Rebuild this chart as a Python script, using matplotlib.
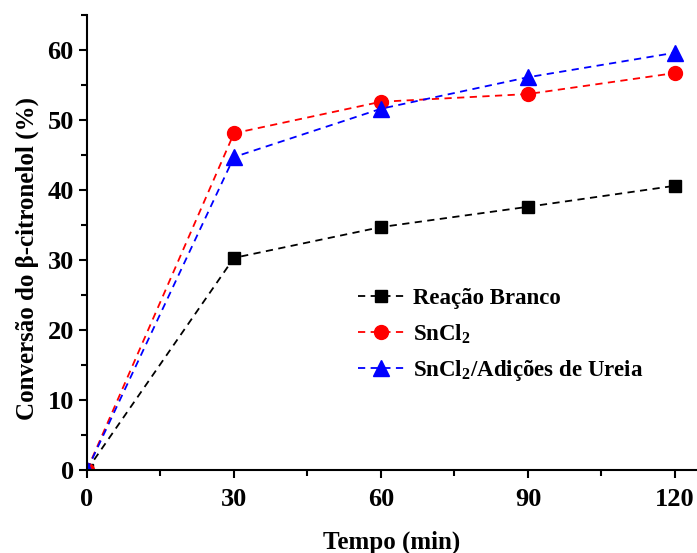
import matplotlib.pyplot as plt
from matplotlib.ticker import MultipleLocator

plt.rcParams['font.family'] = ['Liberation Serif', 'DejaVu Serif']
plt.rcParams['font.weight'] = 'bold'
plt.rcParams['mathtext.fontset'] = 'custom'
plt.rcParams['mathtext.rm'] = 'Liberation Serif:bold'
plt.rcParams['mathtext.bf'] = 'Liberation Serif:bold'

tempo = [0, 30, 60, 90, 120]
branco = [0, 30.3, 34.7, 37.6, 40.6]
sncl2 = [0, 48.1, 52.6, 53.7, 56.7]
sncl2_ureia = [0, 44.7, 51.6, 56.1, 59.6]

fig = plt.figure(figsize=(6.97, 5.53), dpi=100)
ax = fig.add_axes([0.1248, 0.150, 0.8752, 0.823])

ax.plot(tempo, branco, ls='--', dashes=(4, 3), color='black', lw=1.3,
        marker='s', ms=9, label='Reação Branco')
ax.plot(tempo, sncl2, ls='--', dashes=(4, 3), color='red', lw=1.3,
        marker='o', ms=10, label=r'SnCl$_\mathbf{2}$')
ax.plot(tempo, sncl2_ureia, ls='--', dashes=(4, 3), color='blue', lw=1.3,
        marker='^', ms=11, label=r'SnCl$_\mathbf{2}$/Adições de Ureia')

ax.set_xlim(0, 124.5)
ax.set_ylim(0, 65)
ax.xaxis.set_major_locator(MultipleLocator(30))
ax.xaxis.set_minor_locator(MultipleLocator(15))
ax.yaxis.set_major_locator(MultipleLocator(10))
ax.yaxis.set_minor_locator(MultipleLocator(5))
ax.tick_params(which='major', direction='out', length=6, width=1.5, labelsize=19)
ax.tick_params(axis='x', which='major', pad=7)
ax.tick_params(which='minor', direction='out', length=4, width=1.5)
for s in ['top', 'right']:
    ax.spines[s].set_visible(False)
for s in ['left', 'bottom']:
    ax.spines[s].set_linewidth(1.5)
ax.set_clip_on(False)

ax.set_xlabel('Tempo (min)', fontsize=18, fontweight='bold', labelpad=14)
ax.set_ylabel('Conversão do β-citronelol (%)', fontsize=18, fontweight='bold')
ax.yaxis.set_label_coords(-0.079, 0.464)

ax.legend(loc='upper left', bbox_to_anchor=(0.41, 0.445), frameon=False,
          fontsize=16.5, handlelength=2.0, labelspacing=0.55, handletextpad=0.4)

fig.savefig('out.png', dpi=100)
